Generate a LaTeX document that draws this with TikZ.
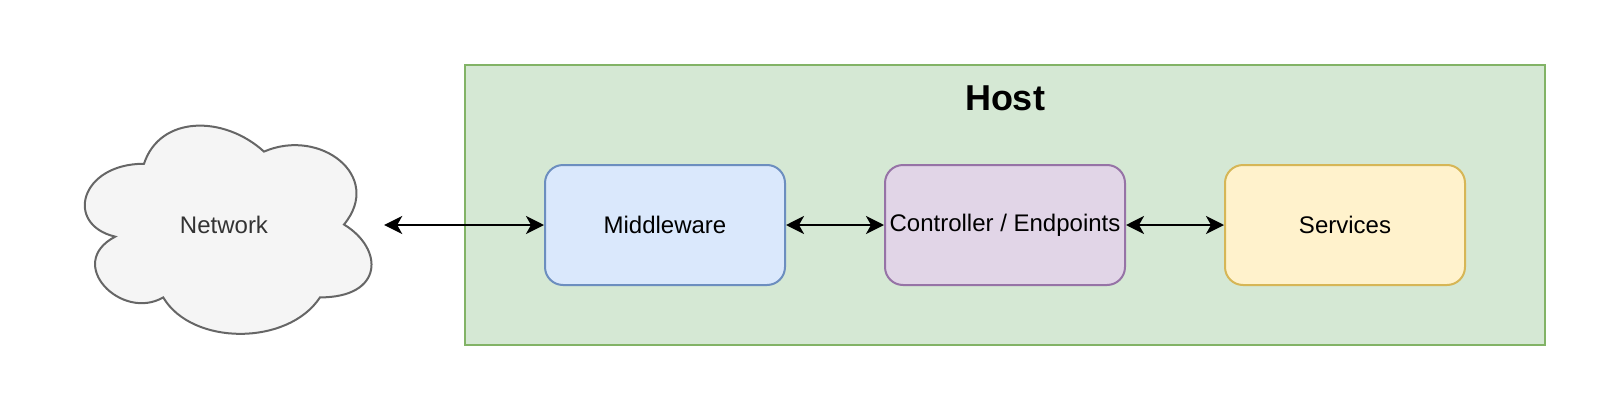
\documentclass[tikz,border=0pt]{standalone}
\usepackage{fontspec}
\setmainfont{Liberation Sans}
\usetikzlibrary{arrows.meta}
\definecolor{hostfill}{HTML}{D5E8D4}
\definecolor{hoststroke}{HTML}{82B366}
\definecolor{bluefill}{HTML}{DAE8FC}
\definecolor{bluestroke}{HTML}{6C8EBF}
\definecolor{purplefill}{HTML}{E1D5E7}
\definecolor{purplestroke}{HTML}{9673A6}
\definecolor{yellowfill}{HTML}{FFF2CC}
\definecolor{yellowstroke}{HTML}{D6B656}
\definecolor{cloudfill}{HTML}{F5F5F5}
\definecolor{cloudstroke}{HTML}{666666}
\definecolor{cloudtext}{HTML}{333333}
\tikzset{
  compbox/.style={rectangle, rounded corners=18pt, minimum width=240pt, minimum height=120pt, line width=2pt, inner sep=0pt, font=\fontsize{24}{28}\selectfont},
  link/.style={line width=2.5pt, {Stealth[length=18pt,width=18pt,inset=5pt]}-{Stealth[length=18pt,width=18pt,inset=5pt]}}
}
\begin{document}
\begin{tikzpicture}[x=1pt,y=-1pt]
\useasboundingbox (0,0) rectangle (1610,410);
% host container
\node[draw=hoststroke, fill=hostfill, line width=2pt, minimum width=1080pt, minimum height=280pt, inner sep=0pt] (host) at (1005,204.5) {};
\node[font=\fontsize{36}{40}\selectfont\bfseries] (hosttitle) at (1005,98.5) {Host};
% cloud
\begin{scope}[shift={(64,103)}]
\def\w{320}\def\h{243}
\draw[fill=cloudfill, draw=cloudstroke, line width=2pt]
 (0.25*\w,0.25*\h)
 .. controls (0.05*\w,0.25*\h) and (0,0.5*\h) .. (0.16*\w,0.55*\h)
 .. controls (0,0.66*\h) and (0.18*\w,0.9*\h) .. (0.31*\w,0.8*\h)
 .. controls (0.4*\w,\h) and (0.7*\w,\h) .. (0.8*\w,0.8*\h)
 .. controls (\w,0.8*\h) and (\w,0.6*\h) .. (0.875*\w,0.5*\h)
 .. controls (\w,0.3*\h) and (0.8*\w,0.1*\h) .. (0.625*\w,0.2*\h)
 .. controls (0.5*\w,0.05*\h) and (0.3*\w,0.05*\h) .. (0.25*\w,0.25*\h) -- cycle;
\end{scope}
\node[minimum width=320pt, minimum height=243pt, inner sep=0pt, text=cloudtext, font=\fontsize{24}{28}\selectfont] (net) at (224,225) {Network};
% components
\node[compbox, draw=bluestroke, fill=bluefill] (mw) at (665,225) {Middleware};
\node[compbox, draw=purplestroke, fill=purplefill] (ctl) at (1005,225) {Controller / Endpoints};
\node[compbox, draw=yellowstroke, fill=yellowfill] (svc) at (1345,225) {Services};
% connectors
\draw[link] (net.east) -- (mw.west);
\draw[link] (mw.east) -- (ctl.west);
\draw[link] (ctl.east) -- (svc.west);
\end{tikzpicture}
\end{document}
